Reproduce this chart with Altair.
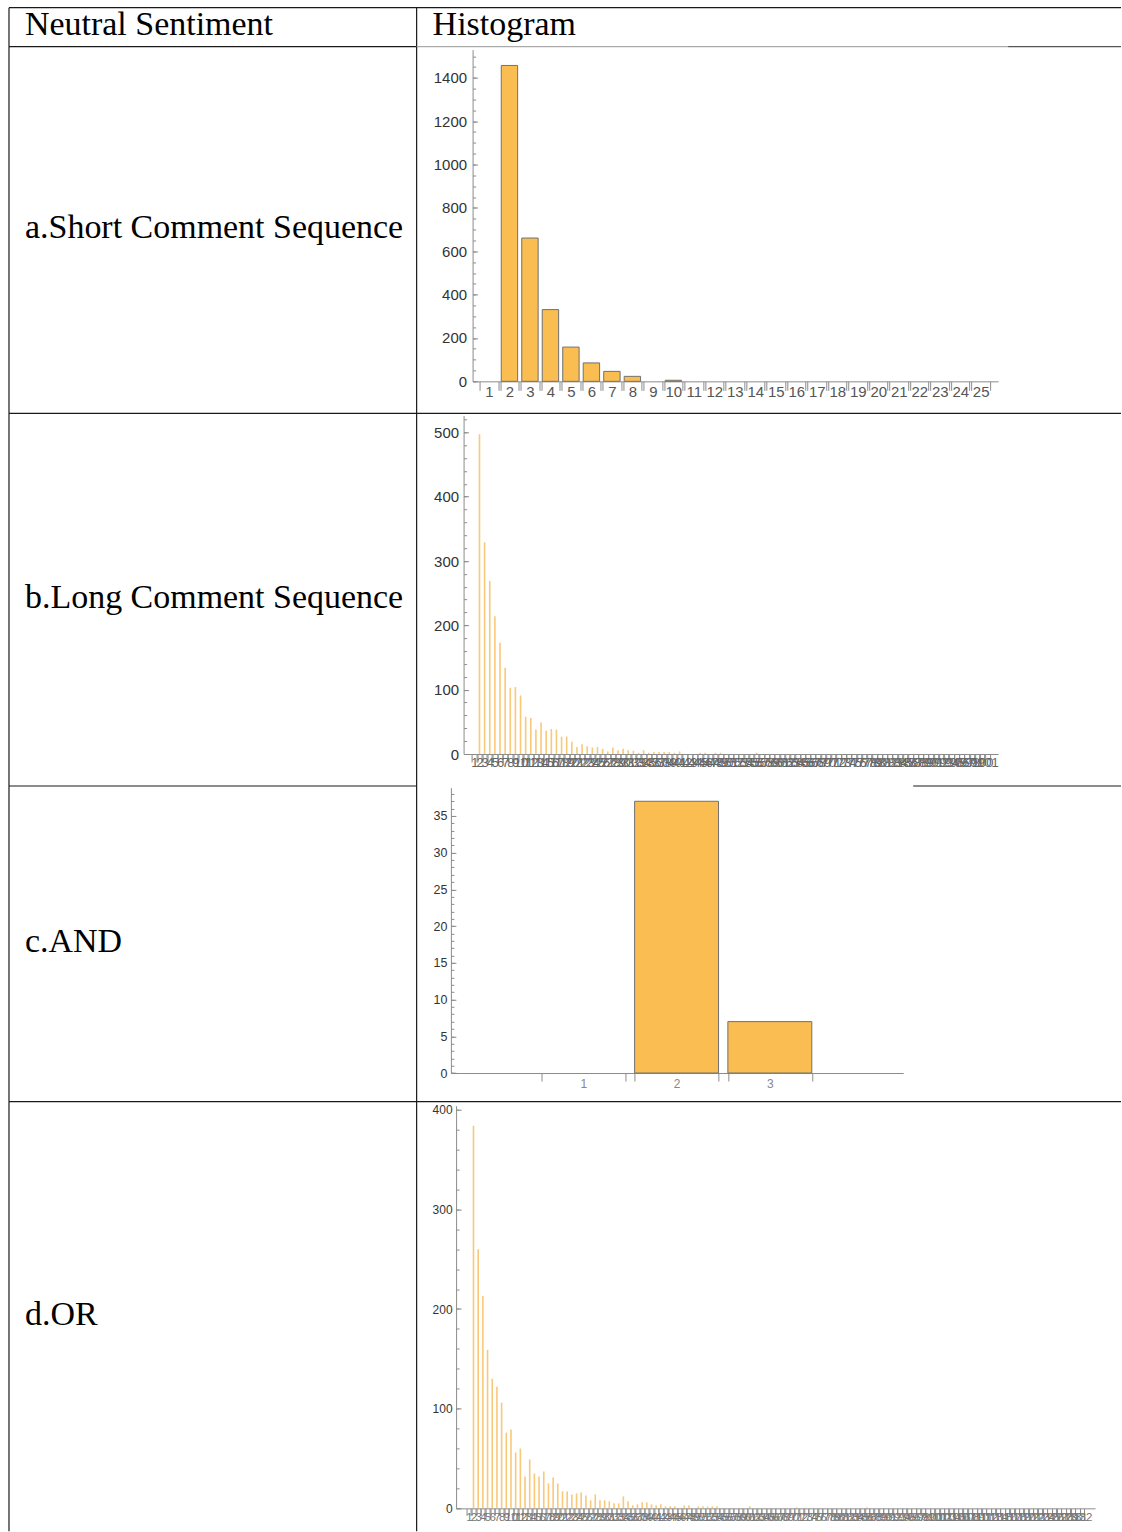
import altair as alt
import pandas as pd

# ---------------- data ----------------
header_labels = ["Neutral Sentiment", "Histogram"]
row_labels = ["a.Short Comment Sequence", "b.Long Comment Sequence", "c.AND", "d.OR"]

short_bins = list(range(1, 26))
short_counts = [0, 1457, 661, 331, 158, 85, 46, 23, 0, 5,
                0, 0, 0, 0, 0, 0, 0, 0, 0, 0,
                0, 0, 0, 0, 0]

long_bins = list(range(1, 102))
long_counts = [
    0, 497, 329, 269, 214, 173, 134, 103, 104, 91,
    58, 56, 38, 49, 36, 39, 38, 27, 27, 19,
    11, 15, 12, 10, 11, 8, 4, 10, 6, 8,
    6, 5, 2, 6, 2, 3, 3, 3, 3, 2,
    4, 0, 0, 0, 2, 2, 0, 2, 2, 0,
    0, 0, 0, 0, 0, 2, 0, 0, 0, 0,
    0, 0, 0, 0, 0, 0, 0, 0, 0, 0,
    0, 0, 0, 0, 0, 0, 0, 0, 0, 0,
    0, 0, 0, 0, 0, 0, 0, 0, 0, 0,
    0, 0, 0, 0, 0, 0, 0, 0, 0, 0,
    0,
]

and_bins = [1, 2, 3]
and_counts = [0, 37, 7]

or_bins = list(range(1, 133))
or_counts = [
    0, 384, 260, 213, 159, 130, 122, 106, 76, 79,
    56, 60, 32, 49, 35, 32, 37, 25, 31, 25,
    17, 17, 14, 15, 16, 13, 8, 14, 8, 8,
    7, 5, 5, 12, 7, 3, 4, 6, 6, 4,
    3, 4, 2, 2, 2, 0, 3, 3, 0, 2,
    2, 2, 2, 2, 0, 0, 0, 0, 0, 0,
    2, 0, 0, 0, 0, 0, 0, 0, 0, 0,
    1, 0, 0, 0, 0, 0, 0, 0, 0, 0,
    0, 0, 0, 0, 0, 1, 0, 0, 0, 0,
    0, 0, 0, 0, 0, 0, 0, 0, 0, 0,
    0, 0, 0, 0, 0, 0, 0, 0, 0, 0,
    0, 0, 0, 0, 0, 0, 0, 0, 0, 0,
    0, 0, 0, 0, 0, 0, 0, 0, 0, 0,
    0, 0,
]

# ---------------- style / layout ----------------
SANS = "Liberation Sans"
SERIF = "Liberation Serif"
AXIS_GREY = "#8c8c8c"
RULE = "#1a1a1a"
BAR_FILL = "#F9BD51"
BAR_EDGE = "#707070"
THIN_BAR = "#F7B13F"

TABLE_W = 1113          # table width inside the page padding
SPLIT = 408             # column divider
ONE = pd.DataFrame({"k": [0]})


def hline(x1, x2, y, color=RULE):
    return alt.Chart(ONE).mark_rule(color=color, strokeWidth=1.2).encode(
        x=alt.value(x1), x2=alt.value(x2), y=alt.value(y))


def vline(x, y1, y2, color=RULE):
    return alt.Chart(ONE).mark_rule(color=color, strokeWidth=1.2).encode(
        x=alt.value(x), y=alt.value(y1), y2=alt.value(y2))


def cell_text(label, x, y, size=34):
    return alt.Chart(pd.DataFrame({"t": [label]})).mark_text(
        align="left", baseline="middle", font=SERIF, fontSize=size, color="black"
    ).encode(x=alt.value(x), y=alt.value(y), text="t:N")


def histogram_layers(bins, counts, g):
    df = pd.DataFrame({"bin": bins, "n": counts})
    H = g["H"]
    xs = alt.Scale(domain=g["xdom"], range=[g["x0"], g["x1"]], nice=False, zero=False)
    ys = alt.Scale(domain=g["ydom"], range=[g["yz"], g["yt"]], nice=False, zero=False)
    centre = "abs(datum.value - round(datum.value)) < 0.001"
    xvals = sorted(set(list(bins)
                       + [round(b - g["edge"], 3) for b in bins]
                       + [round(b + g["edge"], 3) for b in bins]))
    x_axis = alt.Axis(
        orient="bottom", offset=g["yz"] - H, values=xvals, title=None, grid=False,
        domainColor=AXIS_GREY, tickColor=AXIS_GREY, tickSize=g["xtick"],
        tickOpacity={"condition": {"test": centre, "value": 0}, "value": 1},
        labelExpr=f"{centre} ? format(datum.value, 'd') : ''",
        labelPadding=g["xpad"], labelOverlap=False, labelFlush=False, labelBound=False,
        labelFont=SANS, labelFontSize=g["xfs"], labelColor=g["xcol"])
    y_labels = alt.Axis(
        orient="left", offset=-g["x0"], values=g["ymajor"], format="d", title=None,
        grid=False, ticks=False, domainColor=AXIS_GREY, labelPadding=g["ypad"],
        labelFont=SANS, labelFontSize=g["yfs"], labelColor="#333",
        labelOverlap=False, labelFlush=False, labelBound=False)
    y_major_ticks = alt.Axis(
        orient="right", offset=g["x0"] - TABLE_W, values=g["ymajor"], title=None,
        grid=False, labels=False, domain=False, tickSize=5, tickColor=AXIS_GREY)
    y_minor_ticks = alt.Axis(
        orient="right", offset=g["x0"] - TABLE_W, values=g["yminor"], title=None,
        grid=False, labels=False, domain=False, tickSize=3, tickColor=AXIS_GREY)

    base = alt.Chart(df).transform_filter("datum.n > 0")
    if g["thin"]:
        marks = base.mark_rule(color=THIN_BAR, strokeWidth=1.6, opacity=0.7).encode(
            x=alt.X("bin:Q", scale=xs, axis=x_axis),
            y=alt.Y("n:Q", scale=ys, axis=y_labels),
            y2=alt.datum(0))
    else:
        hw = g["hw"]
        marks = base.transform_calculate(
            lo=f"datum.bin - {hw}", hi=f"datum.bin + {hw}"
        ).mark_bar(fill=BAR_FILL, stroke=BAR_EDGE, strokeWidth=1).encode(
            x=alt.X("lo:Q", scale=xs, axis=x_axis), x2="hi:Q",
            y=alt.Y("n:Q", scale=ys, axis=y_labels),
            y2=alt.datum(0))
    major = alt.Chart(df).mark_rule(opacity=0).encode(
        y=alt.Y("n:Q", scale=ys, axis=y_major_ticks))
    minor = alt.Chart(df).mark_rule(opacity=0).encode(
        y=alt.Y("n:Q", scale=ys, axis=y_minor_ticks))
    return [marks, major, minor]


panels = [
    dict(H=367, x0=464, x1=990, yz=335, yt=3, xdom=[0.2, 25.85], ydom=[0, 1530],
         ymajor=list(range(0, 1401, 200)), yminor=list(range(0, 1501, 50)),
         yfs=15, xfs=15, xcol="#555", ypad=6, xtick=9, xpad=-6,
         thin=False, hw=0.4, edge=0.45),
    dict(H=373, x0=455, x1=990, yz=341, yt=2.3, xdom=[-1.1, 103.1], ydom=[0, 526],
         ymajor=list(range(0, 501, 100)), yminor=list(range(0, 521, 20)),
         yfs=15, xfs=13, xcol="#666", ypad=5, xtick=8, xpad=-5,
         thin=True, edge=0.45),
    dict(H=316, x0=442.3, x1=895, yz=287.3, yt=1.7, xdom=[-0.42, 4.43], ydom=[0, 38.85],
         ymajor=list(range(0, 36, 5)), yminor=list(range(0, 39, 1)),
         yfs=12.5, xfs=12, xcol="#888", ypad=4, xtick=8, xpad=-3,
         thin=False, hw=0.45, edge=0.45),
    dict(H=430, x0=447.5, x1=1087, yz=407, yt=4, xdom=[-1.72, 134.72], ydom=[0, 404],
         ymajor=list(range(0, 401, 100)), yminor=list(range(0, 401, 20)),
         yfs=12, xfs=11.5, xcol="#777", ypad=4, xtick=7, xpad=-4,
         thin=True, edge=0.45),
]
series = [(short_bins, short_counts), (long_bins, long_counts),
          (and_bins, and_counts), (or_bins, or_counts)]

# header row
HH = 39
header = alt.layer(
    hline(0, TABLE_W, 0),
    vline(0, 0, HH), vline(SPLIT, 0, HH),
    hline(0, SPLIT, HH), hline(SPLIT, 1000, HH, "#aaaaaa"), hline(1000, TABLE_W, HH, "#555555"),
    cell_text(header_labels[0], 16, HH / 2 - 2),
    cell_text(header_labels[1], SPLIT + 16, HH / 2 - 2),
).properties(width=TABLE_W, height=HH)

# bottom borders of each body row: list of (x1, x2) segments
bottom_segments = [
    [(0, TABLE_W)],
    [(0, SPLIT), (905, TABLE_W)],
    [(0, TABLE_W)],
    [],
]

rows = [header]
for label, (bins, counts), g, segs in zip(row_labels, series, panels, bottom_segments):
    H = g["H"]
    lines = [vline(0, 0, H), vline(SPLIT, 0, H)] + [hline(a, b, H) for a, b in segs]
    layers = lines + histogram_layers(bins, counts, g) + [cell_text(label, 16, H / 2 - 2)]
    rows.append(alt.layer(*layers).resolve_axis(y="independent")
                .properties(width=TABLE_W, height=H))

chart = alt.vconcat(*rows, spacing=0, bounds="flush").properties(
    padding={"left": 8, "top": 6, "right": 0, "bottom": 0}
).configure_view(stroke=None)

chart.save("out.html", embed_options={"renderer": "svg", "actions": False})
